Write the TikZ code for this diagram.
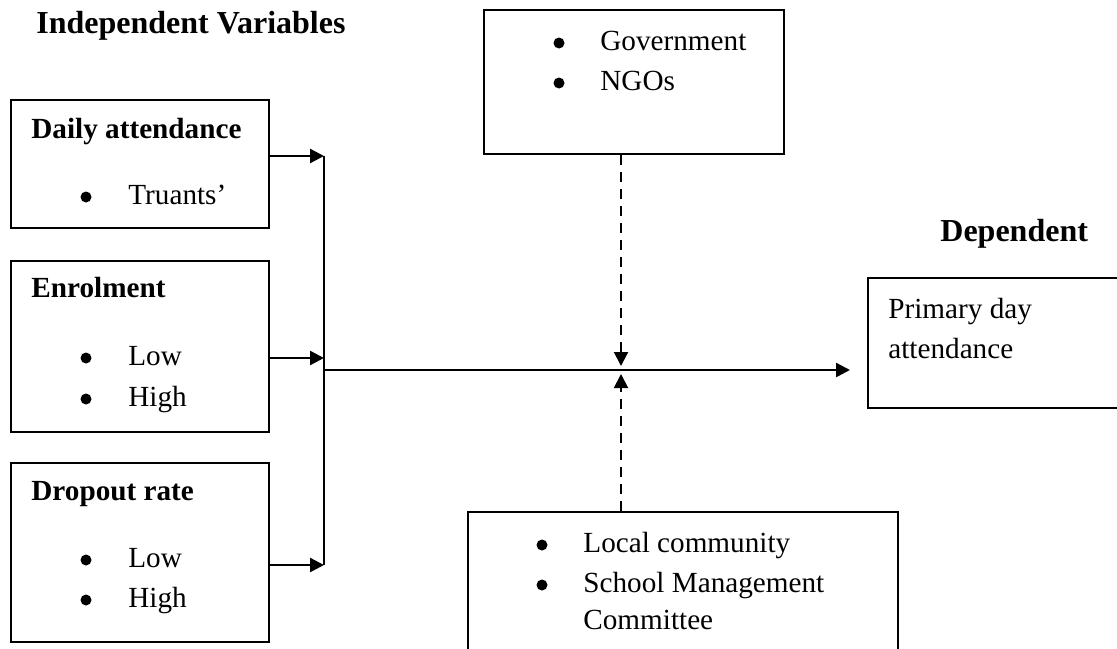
\documentclass[tikz,border=0pt]{standalone}
\usepackage{fontspec}
\setmainfont{Liberation Serif}
\usetikzlibrary{arrows.meta}
\tikzset{
  box/.style={draw=black, line width=1pt, inner sep=0pt},
  wire/.style={draw=black, line width=1.2pt},
  link/.style={wire, -{Triangle[length=7pt,width=7pt]}},
  mod/.style={draw=black, line width=1pt, dash pattern=on 5pt off 3.5pt, -{Triangle[length=7pt,width=7pt]}},
  dot/.style={circle, fill=black, inner sep=0pt, minimum size=5.5pt},
  txt/.style={anchor=base west, inner sep=0pt, font=\fontsize{14.6pt}{20pt}\selectfont},
  hd/.style={txt, font=\fontsize{14.6pt}{20pt}\selectfont\bfseries},
  ttl/.style={txt, font=\fontsize{16pt}{20pt}\selectfont\bfseries},
}

\begin{document}
\begin{tikzpicture}[x=0.5pt, y=-0.5pt]
  \clip (0,0) rectangle (1117,648);

  % titles
  \node[ttl] (tind) at (36,33) {Independent Variables};
  \node[ttl] (tdep) at (940,241) {Dependent};

  % independent boxes
  \node[box, anchor=north west, minimum width=129pt, minimum height=64pt] (daily) at (10,99) {};
  \node[hd] (hdaily) at (31,138) {Daily attendance};
  \node[dot] (b11) at (86,197) {};
  \node[txt] (truant) at (128,204) {Truants’};

  \node[box, anchor=north west, minimum width=129pt, minimum height=85.5pt] (enrol) at (10,260) {};
  \node[hd] (henrol) at (31,297) {Enrolment};
  \node[dot] (b21) at (86,358) {};
  \node[txt] (elow) at (128,365) {Low};
  \node[dot] (b22) at (86,399) {};
  \node[txt] (ehigh) at (128,406) {High};

  \node[box, anchor=north west, minimum width=129pt, minimum height=89.5pt] (drop) at (10,462) {};
  \node[hd] (hdrop) at (31,500) {Dropout rate};
  \node[dot] (b31) at (86,560) {};
  \node[txt] (dlow) at (128,567) {Low};
  \node[dot] (b32) at (86,600) {};
  \node[txt] (dhigh) at (128,607) {High};

  % moderators
  \node[box, anchor=north west, minimum width=150pt, minimum height=72pt] (gov) at (483,9) {};
  \node[dot] (b41) at (559,43) {};
  \node[txt] (tgov) at (600,50) {Government};
  \node[dot] (b42) at (559,83) {};
  \node[txt] (tngo) at (600,90) {NGOs};

  \node[box, anchor=north west, minimum width=215pt, minimum height=76pt] (local) at (467,511) {};
  \node[dot] (b51) at (542,545) {};
  \node[txt] (tloc) at (583,552) {Local community};
  \node[dot] (b52) at (542,585) {};
  \node[txt] (tsch) at (583,592) {School Management};
  \node[txt] (tcom) at (583,629) {Committee};

  % dependent box
  \node[box, anchor=north west, minimum width=130pt, minimum height=65pt] (dep) at (867,277) {};
  \node[txt] (tpri) at (888,318) {Primary day};
  \node[txt] (tatt) at (888,358) {attendance};

  % joints
  \coordinate (j1) at (324,156);
  \coordinate (j2) at (324,358);
  \coordinate (j3) at (324,565);
  \coordinate (jm) at (324,370);
  \coordinate (hit) at (850,370);
  \coordinate (mdn) at (621,366);
  \coordinate (mup) at (621,374);

  \draw[link] (daily.east |- j1) -- (j1);
  \draw[link] (enrol.east |- j2) -- (j2);
  \draw[link] (drop.east |- j3) -- (j3);
  \draw[wire] (j1) -- (j3);
  \draw[link] (jm) -- (hit);
  \draw[mod] (gov.south -| mdn) -- (mdn);
  \draw[mod] (local.north -| mup) -- (mup);
\end{tikzpicture}
\end{document}
